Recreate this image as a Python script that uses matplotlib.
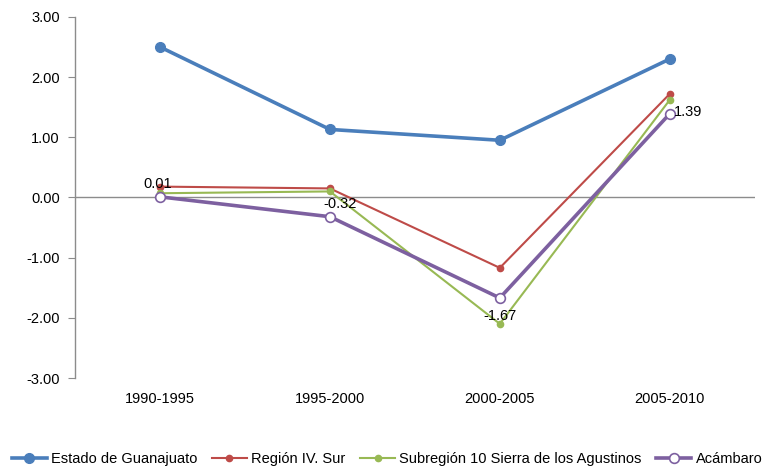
import numpy as np
import matplotlib
matplotlib.use("Agg")
import matplotlib.pyplot as plt

plt.rcParams['font.family'] = ['Liberation Sans', 'DejaVu Sans']

periods = ["1990-1995", "1995-2000", "2000-2005", "2005-2010"]
guanajuato = [2.50, 1.13, 0.95, 2.30]
region_sur = [0.18, 0.15, -1.17, 1.72]
subregion = [0.07, 0.10, -2.10, 1.62]
acambaro = [0.01, -0.32, -1.67, 1.39]
acambaro_labels = ["0.01", "-0.32", "-1.67", "1.39"]

fig = plt.figure(figsize=(7.74, 4.69), dpi=100)
ax = fig.add_axes([0.097, 0.194, 0.878, 0.770])
x = np.arange(len(periods)) + 0.5

ax.axhline(0, color="#8c8c8c", lw=1.0, zorder=1)
ax.plot(x, guanajuato, color="#4a7ebb", lw=2.6, marker="o", ms=7, label="Estado de Guanajuato", zorder=3)
ax.plot(x, region_sur, color="#be4b48", lw=1.5, marker="o", ms=4.5, label="Región IV. Sur", zorder=3)
ax.plot(x, subregion, color="#98b954", lw=1.5, marker="o", ms=4.5, label="Subregión 10 Sierra de los Agustinos", zorder=3)
ax.plot(x, acambaro, color="#7d60a0", lw=2.6, marker="o", ms=7, mfc="white", mew=1.2,
        label="Acámbaro", zorder=4)

# label offsets in points
offsets = [(-2, 9), (7, 9), (0, -13), (13, 1.5)]
for xi, yi, t, (dx, dy) in zip(x, acambaro, acambaro_labels, offsets):
    ax.annotate(t, (xi, yi), xytext=(dx, dy), textcoords="offset points",
                ha="center", va="center", fontsize=10.5, color="black", zorder=5)

ax.set_xlim(0, 4)
ax.set_ylim(-3, 3)
ax.set_yticks(np.arange(-3, 3.01, 1))
ax.set_yticklabels([f"{v:.2f}" for v in np.arange(-3, 3.01, 1)], fontsize=10.5)
ax.set_xticks(x)
ax.set_xticklabels(periods, fontsize=10.5)
ax.tick_params(axis="x", length=0, pad=10)
ax.tick_params(axis="y", length=5, color="#8c8c8c", pad=6)
for s in ["top", "right", "bottom"]:
    ax.spines[s].set_visible(False)
ax.spines["left"].set_color("#8c8c8c")
ax.spines["left"].set_linewidth(1.0)

fig.legend(loc="center", bbox_to_anchor=(0.5, 0.021), ncol=4, frameon=False,
           fontsize=10.5, handlelength=2.4, handletextpad=0.3, columnspacing=1.0,
           borderpad=0, borderaxespad=0)

fig.savefig("out.png", dpi=100)
